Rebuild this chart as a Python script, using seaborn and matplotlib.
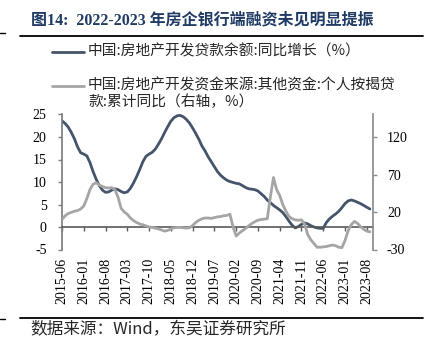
import matplotlib
matplotlib.use("Agg")
import matplotlib.pyplot as plt
from matplotlib.lines import Line2D
import numpy as np
import pandas as pd
import seaborn as sns

# Monthly series, 2015-06 .. 2023-09
start_month = "2015-06"
n_months = 100

# 中国:房地产开发贷款余额:同比增长 (%)
loan_yoy = [
    23.6, 23.0, 22.2, 21.0, 19.6, 17.8, 16.5, 16.2, 15.8, 14.3,
    12.3, 10.6, 9.2, 8.2, 7.7, 7.8, 8.2, 8.5, 8.3, 7.9,
    7.6, 7.8, 8.6, 9.8, 11.2, 12.8, 14.5, 15.7, 16.2, 16.6,
    17.3, 18.4, 19.6, 21.0, 22.3, 23.5, 24.3, 24.7, 24.8, 24.5,
    23.9, 23.1, 22.0, 20.8, 19.5, 18.0, 16.9, 15.6, 14.5, 13.4,
    12.3, 11.5, 10.9, 10.4, 10.1, 9.9, 9.7, 9.6, 9.2, 8.8,
    8.5, 8.4, 8.3, 8.0, 7.4, 6.8, 6.0, 5.4, 4.8, 4.3,
    3.8, 3.2, 2.3, 1.3, 0.4, -0.2, 0.1, 0.6, 0.9, 0.7,
    0.3, 0.0, -0.2, -0.3, -0.3, 1.0, 1.8, 2.4, 2.9, 3.5,
    4.3, 5.2, 5.8, 6.0, 5.8, 5.5, 5.2, 4.8, 4.4, 4.0,
]

# 中国:房地产开发资金来源:其他资金:个人按揭贷款:累计同比 (右轴, %)
mortgage_yoy = [
    10, 15, 18, 19.5, 21, 22, 24, 28, 38, 50,
    57, 59, 56, 54, 52.5, 52, 52.5, 50, 40, 25,
    20, 17, 12, 8.5, 6, 4, 3, 1.5, 0, -0.5,
    -1.5, -2.5, -4, -5.5, -4.5, -2.5, -1, -0.5, -0.5, -1,
    -1.5, -1, 2, 6, 9, 11, 12, 12, 11.5, 12.5,
    13.5, 14, 15, 15.5, 17, 0, -12, -8, -5, -2,
    1.5, 4.5, 7, 9, 10, 10.5, 11, 40, 66, 50,
    42, 30, 21, 14, 11, 9.5, 9, 9.5, 4, -10,
    -17, -22, -27, -27, -26.5, -26, -25, -24, -25, -27,
    -27.5, -18, -5, 3, 7.5, 5, 0.5, -3, -5.5, -6.5,
]

x_tick_labels = [
    "2015-06", "2016-01", "2016-08", "2017-03", "2017-10", "2018-05",
    "2018-12", "2019-07", "2020-02", "2020-09", "2021-04", "2021-11",
    "2022-06", "2023-01", "2023-08",
]
left_ticks = [-5, 0, 5, 10, 15, 20, 25]
right_ticks = [-30, 20, 70, 120]

legend_labels = [
    "中国:房地产开发贷款余额:同比增长（%）",
    "中国:房地产开发资金来源:其他资金:个人按揭贷\n款:累计同比（右轴，%）",
]
title_text = "图14:  2022-2023 年房企银行端融资未见明显提振"
source_text = "数据来源：Wind，东吴证券研究所"

months = pd.date_range(start_month, periods=n_months, freq="MS").strftime("%Y-%m")
df = pd.DataFrame({
    "idx": np.arange(n_months),
    "month": months,
    "loan": loan_yoy,
    "mortgage": mortgage_yoy,
})

sns.set_theme(style="white")
FONT = ["Liberation Serif", "Noto Sans CJK SC", "DejaVu Sans"]
plt.rcParams["font.family"] = FONT
plt.rcParams["axes.unicode_minus"] = False

BLUE = "#44546A"
GREY = "#A5A5A5"
AXIS = "#595959"

fig = plt.figure(figsize=(4.29, 3.43), dpi=100)
W, H = 429, 343
ax = fig.add_axes([62 / W, 1 - 249.5 / H, (373 - 62) / W, (249.5 - 114.5) / H])
ax2 = ax.twinx()

sns.lineplot(data=df, x="idx", y="loan", ax=ax, color=BLUE, linewidth=2.0)
sns.lineplot(data=df, x="idx", y="mortgage", ax=ax2, color=GREY, linewidth=2.0)

ax.set_xlim(0, 100)
ax.set_ylim(-5, 25)
ax2.set_ylim(-30, 150)
ax.set_yticks(left_ticks)
ax2.set_yticks(right_ticks)
ax.set_xlabel("")
ax.set_ylabel("")
ax2.set_ylabel("")

tick_pos = [int(np.where(df["month"] == m)[0][0]) for m in x_tick_labels]
ax.set_xticks(tick_pos)
ax.set_xticklabels(x_tick_labels)

for s in ["top", "right"]:
    ax.spines[s].set_visible(False)
for s in ["top", "left", "bottom"]:
    ax2.spines[s].set_visible(False)
ax.spines["bottom"].set_position(("data", 0))
ax.spines["bottom"].set_color(AXIS)
ax.spines["bottom"].set_linewidth(1.2)
ax.spines["left"].set_color("#7F7F7F")
ax2.spines["right"].set_color("#8C8C8C")

ax.tick_params(axis="x", direction="out", length=3, width=1, color=AXIS,
               labelsize=10, pad=19, labelcolor="black", labelrotation=90,
               bottom=True)
ax.tick_params(axis="y", direction="out", length=3, width=1, color="#7F7F7F",
               labelsize=10, pad=8, labelcolor="black", left=True)
ax2.tick_params(axis="y", direction="out", length=3, width=1, color="#8C8C8C",
                labelsize=10, pad=7, labelcolor="black", right=True)
for lab in ax.get_xticklabels():
    lab.set_verticalalignment("top")
for lab in ax.get_xticklabels() + ax.get_yticklabels() + ax2.get_yticklabels():
    lab.set_fontfamily("Liberation Serif")

if ax.get_legend():
    ax.get_legend().remove()

# Legend drawn at figure level: handle aligned with first text line
def fx(px):
    return px / W

def fy(py):
    return 1 - py / H

legend_rows = [(BLUE, 52), (GREY, 86)]
for (col, ypx), lab in zip(legend_rows, legend_labels):
    fig.add_artist(Line2D([fx(52), fx(84)], [fy(ypx), fy(ypx)], color=col,
                          linewidth=2.0, transform=fig.transFigure))
    fig.text(fx(88), fy(ypx - 8), lab, fontsize=10.6, color="#262626", va="top",
             family=["Noto Sans CJK SC", "DejaVu Sans"], linespacing=1.15,
             transform=fig.transFigure)

# Title and rules
fig.text(fx(31), fy(20), title_text, fontsize=11.5, fontweight="bold",
         color="#1F3A64", va="center", ha="left",
         family=["Liberation Serif", "Noto Sans CJK SC"])
for ypx in (36, 317.5):
    fig.add_artist(Line2D([fx(20), fx(423)], [fy(ypx), fy(ypx)], color="black",
                          linewidth=1.3, transform=fig.transFigure))
for ypx in (32.5, 318.5):
    fig.add_artist(Line2D([fx(0), fx(5)], [fy(ypx), fy(ypx)], color="black",
                          linewidth=1.0, transform=fig.transFigure))
fig.text(fx(30), fy(330), source_text, fontsize=12, color="#262626",
         va="center", ha="left", family=["Noto Sans CJK SC", "Liberation Serif"])

fig.savefig("out.png", dpi=100, facecolor="white")
